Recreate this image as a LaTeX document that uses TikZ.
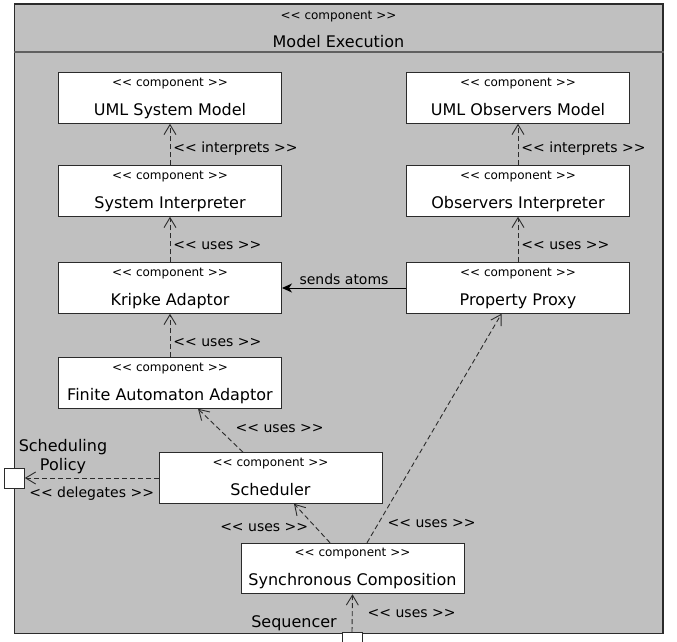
\documentclass[tikz,border=0pt]{standalone}
\usepackage{fontspec}
\setmainfont{DejaVu Sans}
\usepackage{tikz}
\usetikzlibrary{shapes}
\usetikzlibrary{arrows.meta}
\usetikzlibrary{positioning}
\usetikzlibrary{calc}
\definecolor{fondgris}{HTML}{C0C0C0}
\definecolor{trait}{HTML}{2B2B2B}
\newcommand{\ouvre}{<{}<}
\newcommand{\ferme}{>{}>}
\newcommand{\stereo}{{\fontsize{12}{14}\selectfont \ouvre{} component \ferme}}
\newcommand{\comp}[1]{\stereo\\#1}
\tikzstyle{cadre}=[
        rectangle,
        draw=trait,
        line width=1.5pt,
        fill=fondgris,
        minimum width=648.5pt,
        minimum height=629.3pt,
        inner sep=0pt
]
\tikzstyle{composant}=[
        rectangle,
        draw=trait,
        line width=1pt,
        fill=white,
        minimum width=223pt,
        minimum height=50.5pt,
        align=center,
        font=\fontsize{16}{29}\selectfont,
        text height=40pt,
        text depth=6pt,
        inner sep=0pt
]
\tikzstyle{port}=[rectangle,draw=trait,line width=1pt,fill=white,minimum size=20pt,inner sep=0pt]
\tikzstyle{etiquette}=[font=\fontsize{14}{17}\selectfont,text=black,inner sep=3pt]
\tikzstyle{nom}=[font=\fontsize{16}{19}\selectfont,align=center,inner sep=0pt]
\tikzstyle{depend}=[-{Straight Barb[length=10pt,width=12pt]},dash pattern=on 5pt off 3pt,line width=0.9pt,draw=trait]
\tikzstyle{envoi}=[-{Stealth[length=10pt,width=9pt,inset=3pt]},line width=1pt,draw=black]

\begin{document}
\begin{tikzpicture}[x=1pt,y=-1pt]
\useasboundingbox (0,0) rectangle (677,641);
\node[cadre] (exec) at (338.5,318.7) {};
\coordinate (hb) at (0,52);
\draw[draw=trait!75,line width=1.5pt] (exec.west |- hb) -- (exec.east |- hb);
\node[font=\fontsize{12}{14}\selectfont] (titrestereo) at (338.5,17) {\ouvre{} component \ferme};
\node[nom] (titre) at (338.5,42) {Model Execution};
\node[composant] (umlsys) at (170,98) {\comp{UML System Model}};
\node[composant] (umlobs) at (518,98) {\comp{UML Observers Model}};
\node[composant] (sysint) at (170,191) {\comp{System Interpreter}};
\node[composant] (obsint) at (518,191) {\comp{Observers Interpreter}};
\node[composant] (kripke) at (170,288) {\comp{Kripke Adaptor}};
\node[composant] (proxy) at (518,288) {\comp{Property Proxy}};
\node[composant] (faa) at (170,383) {\comp{Finite Automaton Adaptor}};
\node[composant] (sched) at (270.5,478) {\comp{Scheduler}};
\node[composant] (sync) at (352.5,568.5) {\comp{Synchronous Composition}};
\node[port] (policy) at (14.3,478) {};
\node[port] (seq) at (352,642.5) {};
\node[nom] (nompolicy) at (63,456.5) {Scheduling\\Policy};
\node[nom,anchor=east] (nomseq) at (337,623) {Sequencer};
%Placementdesflèches
\draw[depend] (sysint) -- (umlsys) node[etiquette,pos=0.4,anchor=west] (l1) {\ouvre{} interprets \ferme};
\draw[depend] (obsint) -- (umlobs) node[etiquette,pos=0.4,anchor=west] (l2) {\ouvre{} interprets \ferme};
\draw[depend] (kripke) -- (sysint) node[etiquette,pos=0.37,anchor=west] (l3) {\ouvre{} uses \ferme};
\draw[depend] (proxy) -- (obsint) node[etiquette,pos=0.37,anchor=west] (l4) {\ouvre{} uses \ferme};
\draw[envoi] (proxy) -- (kripke) node[etiquette,midway,above] (l5) {sends atoms};
\draw[depend] (faa) -- (kripke) node[etiquette,pos=0.33,anchor=west] (l6) {\ouvre{} uses \ferme};
\draw[depend] ([xshift=-27.5pt]sched.north) -- ([xshift=28pt]faa.south) node[etiquette,pos=0.55,right=14pt] (l7) {\ouvre{} uses \ferme};
\draw[depend] (sched.west) -- (policy.east) node[etiquette,midway,below=5pt] (l8) {\ouvre{} delegates \ferme};
\draw[depend] ([xshift=-22.5pt]sync.north) -- ([xshift=23.5pt]sched.south) node[etiquette,pos=0.4,left=4pt] (l9) {\ouvre{} uses \ferme};
\draw[depend] ([xshift=14.5pt]sync.north) -- ([xshift=-16.5pt]proxy.south) node[etiquette,pos=0.083,right=6pt] (l10) {\ouvre{} uses \ferme};
\draw[depend] (seq.north) -- (sync.south) node[etiquette,midway,right=12pt] (l11) {\ouvre{} uses \ferme};
\end{tikzpicture}
\end{document}
